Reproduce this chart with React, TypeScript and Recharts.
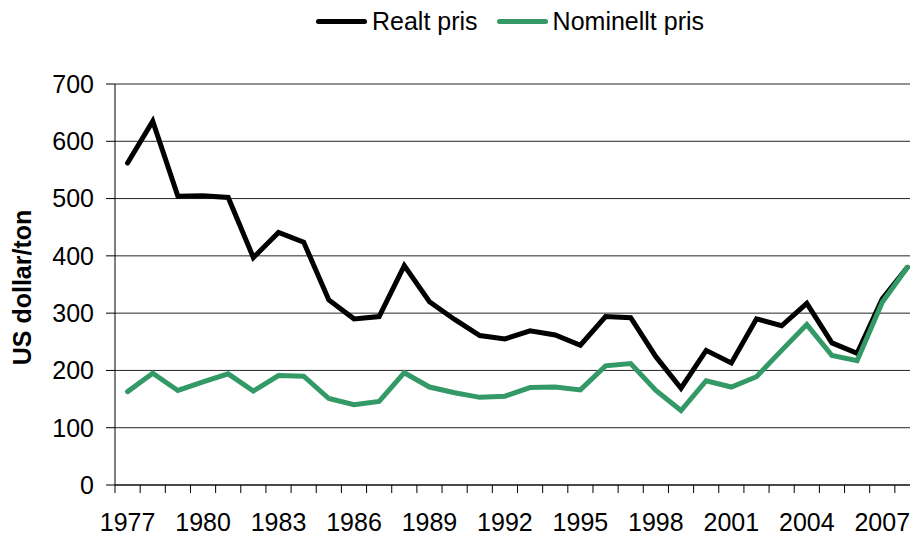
import React from 'react';
import { LineChart, Line, XAxis, YAxis, CartesianGrid, Legend } from 'recharts';

const years = [
  1977, 1978, 1979, 1980, 1981, 1982, 1983, 1984, 1985, 1986, 1987, 1988, 1989, 1990, 1991, 1992,
  1993, 1994, 1995, 1996, 1997, 1998, 1999, 2000, 2001, 2002, 2003, 2004, 2005, 2006, 2007, 2008,
];
const realPrice = [
  562, 635, 504, 505, 502, 397, 441, 424, 323, 290, 294, 383, 320, 289, 261, 255,
  269, 262, 244, 294, 292, 224, 169, 235, 213, 290, 278, 317, 248, 230, 325, 380,
];
const nominalPrice = [
  163, 195, 165, 180, 194, 164, 191, 190, 151, 140, 146, 196, 171, 161, 153, 155,
  170, 171, 166, 208, 212, 165, 130, 182, 171, 189, 235, 280, 226, 217, 319, 380,
];
const yTicks = [0, 100, 200, 300, 400, 500, 600, 700];
const seriesNames = { real: 'Realt pris', nominal: 'Nominellt pris' };
const labelEvery = 3;

const data = years.map((y, i) => ({ year: y, real: realPrice[i], nominal: nominalPrice[i] }));

const FONT = '"Liberation Sans", Arial, sans-serif';
const REAL_COLOR = '#000000';
const NOM_COLOR = '#339966';

const XTick = (props: any) => {
  const { x, y, payload } = props;
  const idx = years.indexOf(payload.value);
  const half = typeof payload.offset === 'number' && payload.offset > 0 ? payload.offset : 805 / years.length / 2;
  const bx = x - half;
  return (
    <g>
      <line x1={bx} y1={y} x2={bx} y2={y + 8} stroke="#000" strokeWidth={1} />
      {idx % labelEvery === 0 && (
        <text x={x} y={y + 28} dy="0.71em" textAnchor="middle" fontSize={25} fill="#000" fontFamily={FONT}>
          {payload.value}
        </text>
      )}
    </g>
  );
};

const LegendContent = () => (
  <div style={{ display: 'flex', alignItems: 'center', fontFamily: FONT, fontSize: 25, lineHeight: '28px', color: '#000', whiteSpace: 'nowrap' }}>
    <span style={{ display: 'inline-block', width: 51, height: 5, background: REAL_COLOR, borderRadius: 3, marginRight: 5 }} />
    <span style={{ marginRight: 19 }}>{seriesNames.real}</span>
    <span style={{ display: 'inline-block', width: 51, height: 5, background: NOM_COLOR, borderRadius: 3, marginRight: 5 }} />
    <span>{seriesNames.nominal}</span>
  </div>
);

export default function App() {
  return (
    <div style={{ position: 'fixed', left: 0, top: 0, width: 910, height: 536, overflow: 'hidden', background: '#fff', fontFamily: FONT }}>
      <LineChart width={930} height={536} data={data} margin={{ top: 84, right: 10, bottom: 0, left: 0 }}>
        <CartesianGrid vertical={false} stroke="#262626" strokeWidth={1} />
        <XAxis
          dataKey="year"
          type="category"
          scale="band"
          interval={0}
          height={51}
          tickLine={false}
          tickSize={0}
          tickMargin={0}
          axisLine={{ stroke: '#000', strokeWidth: 1 }}
          tick={<XTick />}
        />
        <YAxis
          type="number"
          domain={[0, 700]}
          ticks={yTicks}
          interval={0}
          width={115}
          tickSize={9}
          tickMargin={12}
          tickLine={{ stroke: '#000' }}
          axisLine={{ stroke: '#000', strokeWidth: 1 }}
          tick={{ fontSize: 25, fill: '#000', fontFamily: FONT }}
          label={{
            value: 'US dollar/ton',
            angle: -90,
            position: 'center',
            dx: -35,
            dy: 3,
            style: { fontSize: 25, fontWeight: 'bold', fill: '#000', fontFamily: FONT },
          }}
        />
        <Legend
          layout="vertical"
          verticalAlign="middle"
          align="center"
          content={<LegendContent />}
          wrapperStyle={{ top: 7, left: 316, width: 480, height: 28 }}
        />
        <Line
          type="linear"
          dataKey="real"
          name={seriesNames.real}
          stroke={REAL_COLOR}
          strokeWidth={5}
          strokeLinecap="round"
          dot={false}
          activeDot={false}
          isAnimationActive={false}
        />
        <Line
          type="linear"
          dataKey="nominal"
          name={seriesNames.nominal}
          stroke={NOM_COLOR}
          strokeWidth={5}
          strokeLinecap="round"
          dot={false}
          activeDot={false}
          isAnimationActive={false}
        />
      </LineChart>
    </div>
  );
}
